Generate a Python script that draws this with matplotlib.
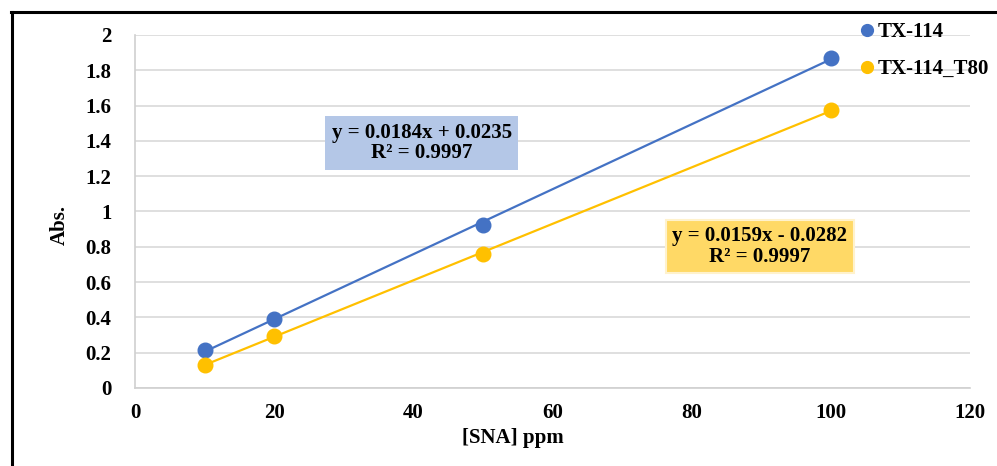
import numpy as np
import matplotlib.pyplot as plt
from matplotlib.lines import Line2D

# data
conc = [10, 20, 50, 100]
abs_tx114 = [0.215, 0.39, 0.925, 1.87]
abs_tx114_t80 = [0.133, 0.295, 0.757, 1.575]

series_names = ['TX-114', 'TX-114_T80']
colors = ['#4472C4', '#FFC000']
eq_texts = ['y = 0.0184x + 0.0235\nR² = 0.9997', 'y = 0.0159x - 0.0282\nR² = 0.9997']
box_colors = ['#B4C7E7', '#FFD966']

plt.rcParams['font.family'] = ['Liberation Serif', 'DejaVu Serif']
plt.rcParams['font.weight'] = 'bold'

fig = plt.figure(figsize=(9.97, 4.66), dpi=100)
ax = fig.add_axes([0.1354, 0.1674, 0.8375, 0.7575])

for ys, c in zip([abs_tx114, abs_tx114_t80], colors):
    # linear trendline over the measured range
    k, b = np.polyfit(conc, ys, 1)
    xs = np.array([min(conc), max(conc)])
    ax.plot(xs, k * xs + b, color=c, lw=1.6, zorder=2)
    ax.plot(conc, ys, 'o', color=c, ms=10.5, zorder=3)

ax.set_xlim(0, 120)
ax.set_ylim(0, 2)
ax.set_xticks(np.arange(0, 121, 20))
ax.set_yticks(np.arange(0, 2.01, 0.2))
ax.set_yticklabels(['0', '0.2', '0.4', '0.6', '0.8', '1', '1.2', '1.4', '1.6', '1.8', '2'])
ax.tick_params(length=0, labelsize=15)
ax.tick_params(axis='y', pad=17)
ax.tick_params(axis='x', pad=11)
ax.grid(axis='y', color='#D9D9D9', lw=1.2)
ax.set_axisbelow(True)
for s in ['top', 'right']:
    ax.spines[s].set_visible(False)
for s in ['left', 'bottom']:
    ax.spines[s].set_color('#D0D0D0')
    ax.spines[s].set_linewidth(1.2)

ax.set_xlabel('[SNA] ppm', fontsize=15, fontweight='bold')
ax.set_ylabel('Abs.', fontsize=15, fontweight='bold')
ax.xaxis.set_label_coords(0.453, -0.113)
ax.yaxis.set_label_coords(-0.078, 0.462)

ax.text(41.2, 1.388, eq_texts[0], ha='center', va='center', fontsize=15, fontweight='bold',
        linespacing=1.05, bbox=dict(boxstyle='square,pad=0.3', fc=box_colors[0], ec='none'))
ax.text(89.8, 0.80, eq_texts[1], ha='center', va='center', fontsize=15, fontweight='bold',
        linespacing=1.05, bbox=dict(boxstyle='square,pad=0.3', fc=box_colors[1], ec='#FFF2CC', lw=1.5))

handles = [Line2D([], [], ls='none', marker='o', color=c, ms=8.5) for c in colors]
fig.legend(handles, series_names, loc='upper left', bbox_to_anchor=(0.851, 0.97),
           frameon=False, fontsize=15, handletextpad=0.0, handlelength=1.0,
           labelspacing=0.8, borderaxespad=0)

# outer frame (left and top edges)
fig.add_artist(Line2D([0.0125, 0.0125], [0, 0.975], color='black', lw=2.2))
fig.add_artist(Line2D([0.0115, 1.0], [0.974, 0.974], color='black', lw=2.2))

fig.savefig('out.png', dpi=100)
